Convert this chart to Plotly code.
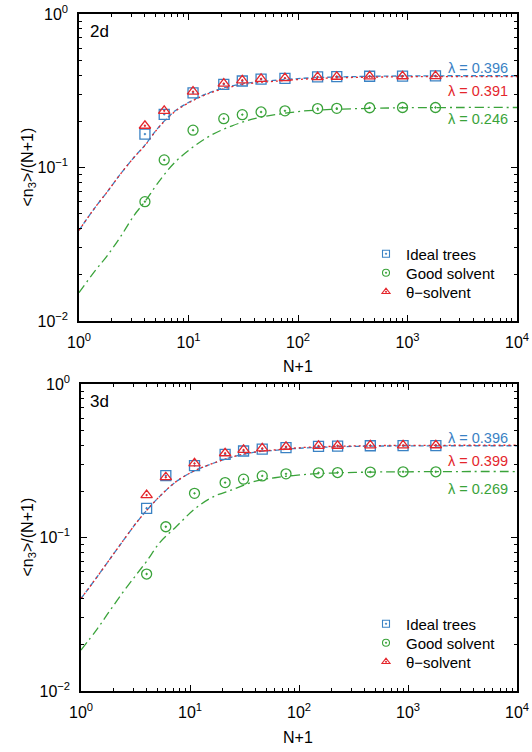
import plotly.graph_objects as go

# ---------------- data ----------------
N1 = [4, 6, 11, 21, 31, 46, 76, 151, 226, 451, 901, 1801]

top_ideal = [0.165, 0.222, 0.306, 0.348, 0.366, 0.376, 0.381, 0.389, 0.391, 0.393, 0.394, 0.395]
top_good = [0.0599, 0.112, 0.175, 0.208, 0.221, 0.230, 0.234, 0.242, 0.243, 0.245, 0.246, 0.246]
top_theta = [0.187, 0.234, 0.312, 0.352, 0.370, 0.378, 0.382, 0.388, 0.390, 0.392, 0.393, 0.394]

bot_ideal = [0.155, 0.253, 0.294, 0.348, 0.366, 0.377, 0.385, 0.392, 0.394, 0.396, 0.397, 0.397]
bot_good = [0.0578, 0.1175, 0.194, 0.228, 0.240, 0.252, 0.260, 0.264, 0.265, 0.267, 0.268, 0.268]
bot_theta = [0.189, 0.247, 0.304, 0.354, 0.372, 0.381, 0.390, 0.395, 0.396, 0.398, 0.398, 0.399]

# fitted curves
fit_x = [1, 1.4, 1.8, 2.4, 3.2, 4, 5.3, 7.5, 11, 16, 25, 40, 60, 110, 200, 500, 1000, 3000, 10000]
top_fit_ideal = [0.039, 0.0548, 0.069, 0.091, 0.117, 0.140, 0.182, 0.233, 0.275, 0.310, 0.340, 0.360,
                 0.369, 0.381, 0.388, 0.393, 0.395, 0.396, 0.396]
top_fit_theta = [0.039, 0.0548, 0.069, 0.091, 0.117, 0.139, 0.181, 0.231, 0.273, 0.307, 0.336, 0.355,
                 0.364, 0.376, 0.383, 0.388, 0.390, 0.391, 0.391]
top_fit_good = [0.0153, 0.0212, 0.0265, 0.0355, 0.049, 0.060, 0.080, 0.108, 0.136, 0.162, 0.187, 0.208,
                0.220, 0.233, 0.239, 0.243, 0.245, 0.246, 0.246]

bot_fit_ideal = [0.040, 0.0552, 0.0708, 0.094, 0.124, 0.150, 0.186, 0.232, 0.272, 0.303, 0.336, 0.360,
                 0.370, 0.383, 0.389, 0.394, 0.395, 0.396, 0.396]
bot_fit_theta = [0.040, 0.0552, 0.0708, 0.094, 0.124, 0.150, 0.186, 0.232, 0.272, 0.303, 0.337, 0.361,
                 0.372, 0.386, 0.392, 0.397, 0.398, 0.399, 0.399]
bot_fit_good = [0.0185, 0.0252, 0.0326, 0.0435, 0.057, 0.070, 0.093, 0.118, 0.153, 0.183, 0.206, 0.233,
                0.245, 0.257, 0.263, 0.267, 0.268, 0.269, 0.269]

lam_top = [0.396, 0.391, 0.246]
lam_bot = [0.396, 0.399, 0.269]

series_names = ["Ideal trees", "Good solvent", "θ−solvent"]
panel_labels = ["2d", "3d"]
x_ticks = [1, 10, 100, 1000, 10000]
x_ticktext = ["10<sup>0</sup>", "10<sup>1</sup>", "10<sup>2</sup>", "10<sup>3</sup>", "10<sup>4</sup>"]
y_ticks = [0.01, 0.1, 1]
y_ticktext = ["10<sup>−2</sup>", "10<sup>−1</sup>", "10<sup>0</sup>"]

# ---------------- style ----------------
BLUE = "#3a82c4"
GREEN = "#3aa33a"
RED = "#e4262c"
FONT = "Liberation Sans, Arial, Helvetica, sans-serif"
W, H = 532, 752


def px_x(px):
    return px / W


def px_y(py):
    return 1 - py / H


fig = go.Figure()

panels = [
    dict(xa="x", ya="y", ideal=top_ideal, good=top_good, theta=top_theta,
         fi=top_fit_ideal, ft=top_fit_theta, fg=top_fit_good, lam=lam_top,
         legends=["legend", "legend2", "legend3"], leg_y=[254, 273, 292]),
    dict(xa="x2", ya="y2", ideal=bot_ideal, good=bot_good, theta=bot_theta,
         fi=bot_fit_ideal, ft=bot_fit_theta, fg=bot_fit_good, lam=lam_bot,
         legends=["legend4", "legend5", "legend6"], leg_y=[624, 643, 662]),
]

legend_layouts = {}
for p in panels:
    # fitted lines
    fig.add_trace(go.Scatter(x=fit_x, y=p["fg"], mode="lines", xaxis=p["xa"], yaxis=p["ya"],
                             line=dict(color=GREEN, width=1.3, dash="9px,4px,2px,4px", shape="spline"),
                             showlegend=False, hoverinfo="skip"))
    fig.add_trace(go.Scatter(x=fit_x, y=p["fi"], mode="lines", xaxis=p["xa"], yaxis=p["ya"],
                             line=dict(color=BLUE, width=1.3, dash="5px,3px", shape="spline"),
                             showlegend=False, hoverinfo="skip"))
    fig.add_trace(go.Scatter(x=fit_x, y=p["ft"], mode="lines", xaxis=p["xa"], yaxis=p["ya"],
                             line=dict(color=RED, width=1.3, dash="2px,3px", shape="spline"),
                             showlegend=False, hoverinfo="skip"))
    # data points
    for vals, sym, col in [(p["ideal"], "square-open-dot", BLUE),
                           (p["good"], "circle-open-dot", GREEN),
                           (p["theta"], "triangle-up-open-dot", RED)]:
        fig.add_trace(go.Scatter(x=N1, y=vals, mode="markers", xaxis=p["xa"], yaxis=p["ya"],
                                 marker=dict(symbol=sym, size=10, color=col,
                                             line=dict(width=1.3, color=col)),
                                 showlegend=False))
    # legend entries (one legend per row so that row spacing matches)
    for name, sym, col, lg, ly in zip(series_names,
                                      ["square-open-dot", "circle-open-dot", "triangle-up-open-dot"],
                                      [BLUE, GREEN, RED], p["legends"], p["leg_y"]):
        fig.add_trace(go.Scatter(x=[None], y=[None], mode="markers", name=name,
                                 xaxis=p["xa"], yaxis=p["ya"], legend=lg,
                                 marker=dict(symbol=sym, size=7, color=col, line=dict(width=1.1, color=col)),
                                 showlegend=True))
        legend_layouts[lg] = dict(x=px_x(366), y=px_y(ly), xanchor="left", yanchor="middle",
                                  bgcolor="rgba(0,0,0,0)",
                                  font=dict(family=FONT, size=15, color="black"),
                                  itemwidth=30, borderwidth=0)

axis_common = dict(
    type="log", showline=True, linecolor="black", linewidth=1.5, mirror="allticks",
    ticks="inside", ticklen=6, tickwidth=1, tickcolor="black", showgrid=False, zeroline=False,
    tickfont=dict(family=FONT, size=16, color="black"), ticklabelstandoff=6, automargin=False,
    minor=dict(ticks="inside", ticklen=3, tickwidth=1, tickcolor="black", showgrid=False,
               tickvals=[m * 10 ** k for k in range(-2, 4) for m in range(2, 10)]),
)

xdom_top = [px_x(79), px_x(517)]
xdom_bot = [px_x(81), px_x(517)]
ydom_top = [px_y(321), px_y(14)]
ydom_bot = [px_y(691), px_y(384)]

fig.update_layout(
    width=W, height=H, margin=dict(l=0, r=0, t=0, b=0, autoexpand=False),
    paper_bgcolor="white", plot_bgcolor="white",
    font=dict(family=FONT, size=15, color="black"),
    xaxis=dict(axis_common, domain=xdom_top, range=[0, 4], anchor="y",
               tickmode="array", tickvals=x_ticks, ticktext=x_ticktext),
    yaxis=dict(axis_common, domain=ydom_top, range=[-2, 0], anchor="x",
               tickmode="array", tickvals=y_ticks, ticktext=y_ticktext),
    xaxis2=dict(axis_common, domain=xdom_bot, range=[0, 4], anchor="y2",
                tickmode="array", tickvals=x_ticks, ticktext=x_ticktext),
    yaxis2=dict(axis_common, domain=ydom_bot, range=[-2, 0], anchor="x2",
                tickmode="array", tickvals=y_ticks, ticktext=y_ticktext),
    showlegend=True,
    **legend_layouts,
)

annotations = []
# panel labels
for lab, yc in zip(panel_labels, [32, 402]):
    annotations.append(dict(text=lab, x=px_x(88), y=px_y(yc), xref="paper", yref="paper",
                            xanchor="left", yanchor="middle", showarrow=False,
                            font=dict(family=FONT, size=17, color="black")))
# axis titles
for yc in [(14 + 321) / 2, (384 + 691) / 2]:
    annotations.append(dict(text="&lt;n<sub>3</sub>&gt;/(N+1)", x=px_x(28), y=px_y(yc),
                            xref="paper", yref="paper", xanchor="center", yanchor="middle",
                            textangle=-90, showarrow=False,
                            font=dict(family=FONT, size=16, color="black")))
for yc in [367, 737]:
    annotations.append(dict(text="N+1", x=px_x(298), y=px_y(yc), xref="paper", yref="paper",
                            xanchor="center", yanchor="middle", showarrow=False,
                            font=dict(family=FONT, size=16, color="black")))
# lambda labels
for lams, ys in [(lam_top, [68, 91, 119]), (lam_bot, [438, 461, 489])]:
    for lam, yc, col in zip(lams, ys, [BLUE, RED, GREEN]):
        annotations.append(dict(text=f"λ = {lam:.3f}", x=px_x(510), y=px_y(yc),
                                xref="paper", yref="paper", xanchor="right", yanchor="middle",
                                showarrow=False, font=dict(family=FONT, size=14.5, color=col)))
fig.update_layout(annotations=annotations)

fig.write_html("out.html")
